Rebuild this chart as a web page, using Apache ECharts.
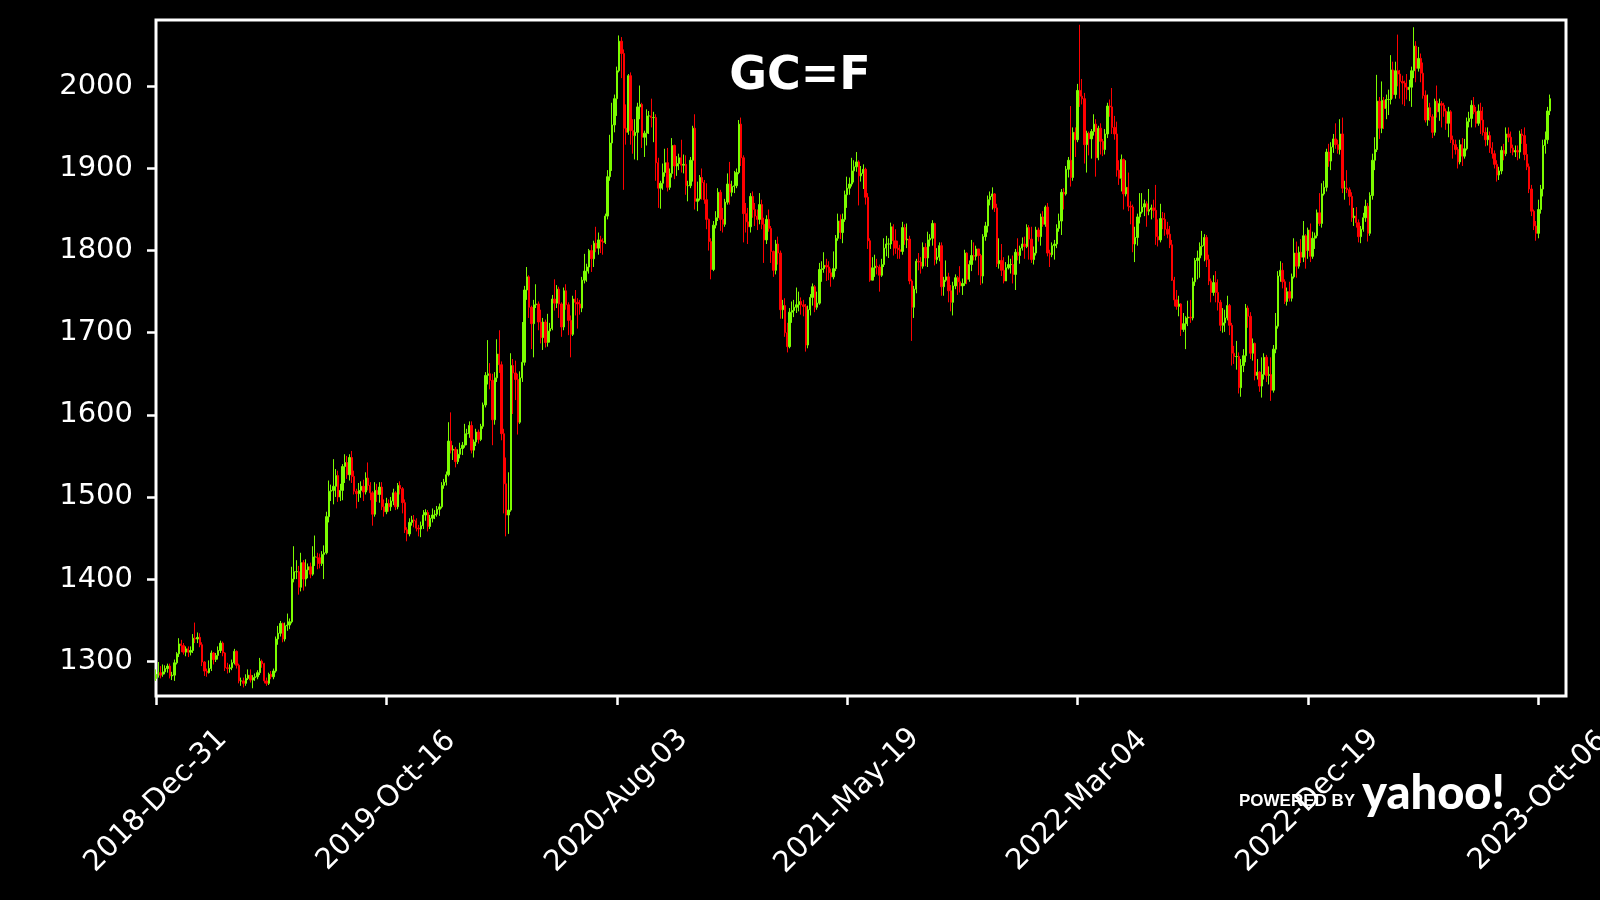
<!DOCTYPE html>
<html><head><meta charset="utf-8">
<script src="https://cdn.jsdelivr.net/npm/echarts@6/dist/echarts.min.js"></script>
<style>html,body{margin:0;padding:0;background:#000}#c{width:1600px;height:900px}</style>
</head><body><div id="c"></div>
<script>
// GC=F gold futures, candles of two trading days each: [open, close, low, high]
const tickLabels = ['2018-Dec-31','2019-Oct-16','2020-Aug-03','2021-May-19','2022-Mar-04','2022-Dec-19','2023-Oct-06'];
const yTicks = [1300,1400,1500,1600,1700,1800,1900,2000];

// 2018-Dec-31 .. 2019-Oct-15
const part1 = [
[1279,1284,1276,1290],[1285,1286,1280,1299],[1286,1283,1279,1294],[1284,1287,1281,1296],[1287,1291,1284,1295],[1291,1294,1286,1297],[1294,1282,1279,1297],[1282,1283,1277,1287],[1283,1298,1276,1302],[1298,1309,1296,1311],
[1309,1321,1305,1328],[1321,1319,1311,1326],[1319,1311,1308,1322],[1311,1315,1306,1318],[1315,1311,1305,1318],[1311,1313,1307,1318],[1313,1328,1310,1333],[1328,1327,1322,1347],[1327,1329,1322,1335],[1329,1320,1317,1334],
[1320,1299,1294,1323],[1299,1288,1282,1300],[1288,1286,1281,1291],[1286,1291,1285,1301],[1291,1310,1288,1313],[1310,1302,1296,1311],[1302,1307,1299,1310],[1307,1313,1302,1318],[1313,1322,1310,1325],[1322,1310,1306,1324],
[1310,1292,1288,1311],[1292,1291,1285,1298],[1291,1292,1286,1296],[1292,1298,1289,1302],[1298,1312,1296,1315],[1312,1295,1291,1313],[1295,1276,1273,1297],[1276,1276,1270,1280],[1276,1273,1268,1280],[1273,1279,1270,1284],
[1279,1283,1277,1290],[1283,1277,1274,1290],[1277,1280,1267,1283],[1280,1281,1276,1285],[1281,1286,1278,1289],[1286,1300,1283,1304],[1300,1297,1292,1302],[1297,1276,1273,1298],[1276,1273,1270,1280],[1273,1284,1271,1286],
[1284,1281,1278,1288],[1281,1288,1278,1291],[1288,1327,1286,1330],[1327,1334,1320,1343],[1334,1346,1330,1349],[1346,1327,1323,1347],[1327,1343,1324,1347],[1343,1344,1337,1358],[1344,1348,1339,1352],[1348,1400,1346,1415],
[1400,1409,1396,1440],[1409,1409,1400,1423],[1409,1390,1381,1416],[1390,1420,1385,1432],[1420,1400,1386,1423],[1400,1411,1391,1424],[1411,1415,1401,1419],[1415,1406,1401,1420],[1406,1427,1404,1440],[1427,1427,1416,1453],
[1427,1426,1412,1432],[1426,1419,1413,1431],[1419,1430,1416,1434],[1430,1432,1400,1441],[1432,1476,1430,1482],[1476,1507,1469,1520],[1507,1508,1495,1515],[1508,1513,1491,1546],[1513,1526,1500,1534],[1526,1500,1494,1532],
[1500,1508,1495,1516],[1508,1537,1496,1540],[1537,1542,1517,1552],[1542,1527,1522,1550],[1527,1548,1520,1552],[1548,1525,1517,1556],[1525,1507,1503,1532],[1507,1504,1486,1510],[1504,1508,1494,1517],[1508,1513,1499,1519],
[1513,1506,1495,1521],[1506,1523,1503,1530],[1523,1514,1508,1542],[1514,1505,1496,1518],[1505,1479,1465,1507],[1479,1508,1476,1518],[1508,1503,1494,1516],[1503,1512,1493,1518],[1512,1488,1484,1518],[1488,1482,1476,1497]
];
// 2019-Oct-16 .. 2020-Jul-31
const part2 = [
[1482,1492,1479,1499],[1492,1488,1482,1497],[1488,1495,1483,1500],[1495,1505,1490,1510],[1505,1488,1484,1507],[1488,1514,1485,1517],[1514,1510,1503,1519],[1510,1493,1480,1512],[1493,1460,1456,1497],[1460,1455,1446,1463],
[1455,1469,1452,1474],[1469,1472,1465,1477],[1472,1471,1463,1478],[1471,1462,1458,1474],[1462,1461,1452,1466],[1461,1465,1451,1470],[1465,1478,1461,1484],[1478,1481,1471,1485],[1481,1464,1458,1484],[1464,1474,1461,1478],
[1474,1478,1469,1486],[1478,1479,1473,1484],[1479,1485,1476,1489],[1485,1488,1477,1492],[1488,1514,1486,1518],[1514,1518,1510,1522],[1518,1527,1514,1531],[1527,1568,1525,1591],[1568,1557,1553,1603],[1557,1558,1545,1563],
[1558,1543,1536,1561],[1543,1552,1540,1558],[1552,1559,1547,1566],[1559,1563,1551,1567],[1563,1577,1560,1589],[1577,1577,1563,1583],[1577,1587,1572,1592],[1587,1557,1553,1592],[1557,1567,1548,1570],[1567,1579,1562,1583],
[1579,1570,1565,1582],[1570,1586,1568,1589],[1586,1612,1583,1615],[1612,1648,1609,1652],[1648,1650,1637,1691],[1650,1642,1631,1663],[1642,1594,1563,1650],[1594,1645,1588,1652],[1645,1674,1640,1692],[1674,1661,1651,1703],
[1661,1577,1569,1665],[1577,1516,1480,1583],[1516,1478,1452,1548],[1478,1484,1455,1530],[1484,1660,1482,1675],[1660,1651,1601,1668],[1651,1643,1618,1666],[1643,1591,1576,1650],[1591,1645,1589,1653],[1645,1664,1640,1713],
[1664,1752,1660,1757],[1752,1768,1740,1780],[1768,1731,1718,1770],[1731,1711,1680,1733],[1711,1734,1670,1740],[1734,1735,1730,1759],[1735,1713,1703,1738],[1713,1694,1687,1728],[1694,1713,1679,1718],[1713,1688,1682,1716],
[1688,1702,1683,1723],[1702,1705,1688,1712],[1705,1741,1703,1746],[1741,1736,1727,1765],[1736,1753,1730,1758],[1753,1735,1718,1756],[1735,1707,1695,1737],[1707,1751,1703,1755],[1751,1734,1728,1759],[1734,1715,1697,1737],
[1715,1698,1670,1721],[1698,1741,1696,1745],[1741,1737,1721,1752],[1737,1735,1705,1742],[1735,1730,1722,1740],[1730,1764,1725,1768],[1764,1775,1760,1796],[1775,1780,1762,1784],[1780,1800,1772,1802],[1800,1790,1774,1807],
[1790,1809,1780,1812],[1809,1803,1798,1829],[1803,1813,1795,1822],[1813,1811,1797,1818],[1811,1810,1795,1815],[1810,1842,1808,1845],[1842,1890,1838,1898],[1890,1931,1885,1941],[1931,1953,1897,1980],[1953,1985,1944,1990]
];
// 2020-Aug-03 .. 2021-May-18
const part3 = [
[1985,2019,1964,2024],[2019,2055,2017,2062],[2055,2040,2010,2060],[2040,1949,1874,2045],[1949,1944,1929,1978],[1944,2013,1941,2015],[2013,1946,1929,2017],[1946,1940,1918,1960],[1940,1944,1911,1960],[1944,1975,1910,1980],
[1975,1978,1960,2001],[1978,1938,1925,1980],[1938,1943,1914,1946],[1943,1964,1928,1972],[1964,1964,1942,1970],[1964,1962,1950,1985],[1962,1962,1932,1969],[1962,1907,1885,1966],[1907,1876,1852,1913],[1876,1882,1851,1885],
[1882,1895,1874,1906],[1895,1907,1890,1924],[1907,1877,1872,1925],[1877,1894,1874,1900],[1894,1928,1889,1937],[1928,1903,1887,1929],[1903,1906,1891,1915],[1906,1913,1898,1918],[1913,1904,1895,1935],[1904,1905,1894,1917],
[1905,1879,1868,1916],[1879,1879,1860,1885],[1879,1910,1876,1914],[1910,1949,1884,1952],[1949,1860,1850,1966],[1860,1863,1848,1884],[1863,1889,1861,1892],[1889,1883,1862,1900],[1883,1862,1857,1886],[1862,1838,1826,1882],
[1838,1811,1800,1839],[1811,1777,1765,1815],[1777,1831,1775,1836],[1831,1840,1827,1848],[1840,1871,1836,1876],[1871,1838,1824,1874],[1838,1832,1822,1852],[1832,1859,1829,1863],[1859,1881,1856,1894],[1881,1871,1856,1908],
[1871,1878,1866,1885],[1878,1879,1870,1897],[1879,1895,1876,1900],[1895,1954,1893,1959],[1954,1913,1903,1962],[1913,1845,1810,1916],[1845,1835,1822,1858],[1835,1829,1808,1852],[1829,1866,1822,1870],[1866,1850,1840,1872],
[1850,1842,1830,1858],[1842,1838,1825,1850],[1838,1856,1832,1870],[1856,1832,1826,1862],[1832,1813,1785,1840],[1813,1838,1808,1843],[1838,1827,1823,1850],[1827,1799,1785,1830],[1799,1776,1768,1800],[1776,1808,1771,1813],
[1808,1797,1783,1817],[1797,1728,1717,1800],[1728,1733,1717,1740],[1733,1700,1695,1742],[1700,1683,1676,1712],[1683,1725,1681,1730],[1725,1727,1712,1738],[1727,1731,1719,1740],[1731,1734,1724,1755],[1734,1738,1726,1750],
[1738,1734,1722,1743],[1734,1732,1720,1740],[1732,1685,1677,1735],[1685,1728,1681,1733],[1728,1743,1721,1747],[1743,1756,1733,1760],[1756,1731,1725,1758],[1731,1736,1728,1750],[1736,1777,1734,1785],[1777,1778,1762,1787],
[1778,1782,1773,1798],[1782,1780,1763,1790],[1780,1773,1764,1787],[1773,1768,1756,1778],[1768,1778,1765,1799],[1778,1815,1775,1819],[1815,1836,1812,1845],[1836,1822,1814,1844],[1822,1838,1809,1845],[1838,1868,1835,1873]
];
// 2021-May-19 .. 2022-Mar-03
const part4 = [
[1868,1876,1852,1890],[1876,1881,1868,1889],[1881,1897,1878,1913],[1897,1902,1883,1910],[1902,1908,1896,1920],[1908,1891,1855,1910],[1891,1894,1884,1903],[1894,1899,1875,1905],[1899,1865,1856,1901],[1865,1812,1802,1870],
[1812,1764,1762,1815],[1764,1779,1764,1792],[1779,1781,1768,1795],[1781,1780,1771,1790],[1780,1770,1750,1783],[1770,1783,1768,1790],[1783,1803,1780,1815],[1803,1808,1793,1818],[1808,1808,1791,1815],[1808,1829,1802,1834],
[1829,1812,1794,1832],[1812,1803,1796,1826],[1803,1801,1790,1812],[1801,1799,1790,1807],[1799,1828,1795,1835],[1828,1813,1807,1832],[1813,1814,1803,1833],[1814,1763,1759,1818],[1763,1731,1690,1765],[1731,1753,1718,1757],
[1753,1787,1748,1790],[1787,1786,1776,1797],[1786,1781,1772,1792],[1781,1804,1778,1810],[1804,1791,1781,1809],[1791,1813,1780,1823],[1813,1815,1805,1820],[1815,1833,1806,1837],[1833,1789,1782,1834],[1789,1792,1784,1803],
[1792,1806,1787,1810],[1806,1756,1745,1810],[1756,1764,1745,1768],[1764,1768,1762,1788],[1768,1751,1737,1773],[1751,1737,1726,1758],[1737,1757,1721,1762],[1757,1767,1753,1771],[1767,1762,1746,1769],[1762,1757,1749,1781],
[1757,1760,1746,1766],[1760,1797,1757,1801],[1797,1765,1759,1798],[1765,1783,1762,1788],[1783,1794,1775,1813],[1794,1793,1788,1810],[1793,1802,1788,1806],[1802,1794,1770,1802],[1794,1769,1758,1796],[1769,1817,1760,1820],
[1817,1830,1812,1835],[1830,1862,1822,1867],[1862,1866,1855,1872],[1866,1869,1850,1877],[1869,1852,1847,1870],[1852,1784,1780,1857],[1784,1788,1778,1815],[1788,1776,1769,1808],[1776,1763,1760,1792],[1763,1779,1763,1786],
[1779,1783,1777,1794],[1783,1783,1772,1790],[1783,1771,1760,1794],[1771,1798,1752,1802],[1798,1794,1788,1815],[1794,1803,1784,1806],[1803,1808,1800,1816],[1808,1805,1790,1817],[1805,1828,1803,1832],[1828,1814,1789,1831],
[1814,1789,1785,1829],[1789,1797,1783,1805],[1797,1825,1794,1829],[1825,1817,1811,1828],[1817,1841,1806,1845],[1841,1832,1829,1848],[1832,1853,1829,1855],[1853,1797,1793,1858],[1797,1795,1780,1801],[1795,1806,1792,1810],
[1806,1808,1789,1813],[1808,1827,1803,1832],[1827,1836,1823,1845],[1836,1871,1819,1875],[1871,1869,1850,1876],[1869,1899,1867,1903],[1899,1910,1889,1914],[1910,1889,1878,1976],[1889,1944,1885,1950],[1944,1935,1914,1950]
];
// 2022-Mar-04 .. 2022-Dec-16
const part5 = [
[1935,1995,1932,2003],[1995,1988,1975,2075],[1988,1985,1978,2009],[1985,1929,1906,1992],[1929,1943,1895,1946],[1943,1936,1916,1945],[1936,1945,1912,1948],[1945,1954,1940,1966],[1954,1913,1890,1960],[1913,1949,1910,1952],
[1949,1933,1917,1955],[1933,1923,1915,1936],[1923,1942,1917,1948],[1942,1976,1937,1980],[1976,1975,1963,1984],[1975,1950,1942,1998],[1950,1942,1935,1964],[1942,1898,1890,1957],[1898,1888,1880,1910],[1888,1911,1872,1917],
[1911,1869,1850,1912],[1869,1877,1866,1910],[1877,1854,1848,1895],[1854,1853,1832,1860],[1853,1808,1798,1856],[1808,1816,1786,1829],[1816,1841,1806,1845],[1841,1847,1833,1870],[1847,1853,1845,1870],[1853,1857,1842,1862],
[1857,1848,1829,1860],[1848,1850,1843,1875],[1850,1852,1838,1856],[1852,1849,1840,1862],[1849,1817,1807,1880],[1817,1813,1805,1838],[1813,1839,1810,1857],[1839,1838,1826,1847],[1838,1826,1818,1846],[1826,1820,1815,1835],
[1820,1807,1803,1830],[1807,1764,1763,1813],[1764,1740,1732,1768],[1740,1732,1728,1752],[1732,1735,1720,1745],[1735,1704,1696,1736],[1704,1711,1701,1724],[1711,1718,1680,1720],[1718,1719,1708,1739],[1719,1718,1712,1740],
[1718,1762,1715,1767],[1762,1788,1757,1791],[1788,1791,1765,1800],[1791,1805,1767,1810],[1805,1806,1794,1824],[1806,1816,1787,1820],[1816,1789,1780,1819],[1789,1763,1758,1795],[1763,1749,1737,1766],[1749,1761,1745,1770],
[1761,1749,1737,1775],[1749,1737,1727,1765],[1737,1709,1702,1740],[1709,1712,1700,1730],[1712,1718,1701,1728],[1718,1733,1715,1745],[1733,1709,1697,1735],[1709,1675,1660,1712],[1675,1671,1662,1684],[1671,1671,1655,1690],
[1671,1633,1626,1676],[1633,1660,1622,1668],[1660,1672,1652,1680],[1672,1730,1664,1735],[1730,1720,1706,1733],[1720,1675,1668,1725],[1675,1687,1666,1693],[1687,1648,1642,1688],[1648,1652,1643,1668],[1652,1635,1628,1653],
[1635,1649,1621,1670],[1649,1670,1643,1675],[1670,1648,1640,1673],[1648,1649,1637,1659],[1649,1630,1617,1670],[1630,1680,1627,1685],[1680,1708,1675,1724],[1708,1769,1705,1775],[1769,1776,1762,1787],[1776,1762,1754,1785],
[1762,1738,1735,1765],[1738,1750,1733,1755],[1750,1742,1738,1762],[1742,1768,1738,1772],[1768,1797,1766,1815],[1797,1781,1767,1811],[1781,1798,1778,1805],[1798,1792,1785,1814],[1792,1818,1786,1836],[1818,1800,1778,1820]
];
// 2022-Dec-19 .. 2023-Oct-05
const part6 = [
[1800,1825,1790,1828],[1825,1793,1786,1833],[1793,1815,1790,1823],[1815,1818,1802,1822],[1818,1846,1815,1850],[1846,1833,1830,1870],[1833,1869,1828,1882],[1869,1877,1867,1885],[1877,1920,1872,1924],[1920,1909,1902,1930],
[1909,1926,1898,1932],[1926,1936,1919,1942],[1936,1929,1924,1955],[1929,1923,1918,1935],[1923,1942,1917,1960],[1942,1876,1870,1962],[1876,1876,1862,1885],[1876,1874,1870,1898],[1874,1866,1855,1877],[1866,1840,1835,1871],
[1840,1842,1830,1852],[1842,1834,1828,1853],[1834,1817,1810,1838],[1817,1826,1809,1830],[1826,1840,1823,1846],[1840,1854,1835,1862],[1854,1821,1811,1858],[1821,1867,1818,1871],[1867,1910,1862,1918],[1910,1923,1898,1938],
[1923,1982,1920,2014],[1982,1949,1936,1987],[1949,1983,1943,2006],[1983,1973,1948,1987],[1973,1984,1960,1990],[1984,1984,1965,1996],[1984,2020,1978,2038],[2020,1990,1985,2030],[1990,2019,1985,2030],[2019,2015,2000,2063],
[2015,2006,1985,2020],[2006,2004,1978,2013],[2004,1999,1976,2007],[1999,1996,1984,2015],[1996,1999,1982,2008],[1999,2019,1975,2024],[2019,2049,2010,2072],[2049,2022,2005,2055],[2022,2034,2018,2048],[2034,2016,2005,2040],
[2016,1989,1985,2029],[1989,1959,1956,1995],[1959,1974,1952,1990],[1974,1963,1958,1980],[1963,1944,1937,1966],[1944,1982,1940,1985],[1982,1969,1962,2001],[1969,1979,1958,1985],[1979,1977,1950,1982],[1977,1970,1963,1980],
[1970,1955,1947,1973],[1955,1969,1938,1975],[1969,1935,1931,1971],[1935,1929,1912,1940],[1929,1923,1917,1935],[1923,1908,1900,1926],[1908,1929,1905,1935],[1929,1915,1903,1937],[1915,1924,1912,1936],[1924,1957,1922,1962],
[1957,1961,1950,1969],[1961,1977,1950,1983],[1977,1969,1966,1987],[1969,1955,1950,1975],[1955,1970,1952,1978],[1970,1959,1942,1980],[1959,1944,1940,1975],[1944,1935,1927,1950],[1935,1940,1928,1950],[1940,1925,1919,1945],
[1925,1918,1912,1932],[1918,1905,1900,1922],[1905,1892,1884,1910],[1892,1897,1886,1902],[1897,1922,1893,1927],[1922,1918,1910,1930],[1918,1942,1915,1950],[1942,1938,1932,1950],[1938,1925,1919,1945],[1925,1920,1916,1929],
[1920,1922,1914,1928],[1922,1920,1910,1928],[1920,1942,1912,1946],[1942,1940,1930,1948],[1940,1917,1910,1950],[1917,1902,1898,1930],[1902,1875,1870,1906],[1875,1848,1842,1880],[1848,1830,1825,1850],[1830,1821,1812,1836]
];
// 2023-Oct-06 .. 2023-Oct-20
const part7 = [
[1821,1850,1815,1862],[1850,1875,1845,1880],[1875,1928,1866,1935],[1928,1935,1918,1945],[1935,1970,1930,1975],[1970,1985,1965,1990]
];

const candles = [].concat(part1, part2, part3, part4, part5, part6, part7);
const TICK_EVERY = 100;      // one tick label every 100 two-day candles
const AXIS_SLOTS = 613;      // axis runs a little past the last candle
const categories = [];
for (let i = 0; i < AXIS_SLOTS; i++) categories.push(String(i));

const chart = echarts.init(document.getElementById('c'), null, {renderer: 'canvas', width: 1600, height: 900});
const FONT = 'DejaVu Sans';
const option = {
  backgroundColor: '#000000',
  animation: false,
  grid: {left: 156, right: 34, top: 20, bottom: 204, containLabel: false, outerBoundsMode: 'none',
         show: true, borderColor: '#ffffff', borderWidth: 3, backgroundColor: 'transparent'},
  xAxis: {
    type: 'category',
    data: categories,
    boundaryGap: false,
    axisLine: {show: false},
    splitLine: {show: false},
    axisTick: {show: true, length: 9, interval: (i) => i % TICK_EVERY === 0, lineStyle: {color: '#ffffff', width: 2.5}},
    axisLabel: {
      interval: (i) => i % TICK_EVERY === 0,
      formatter: (v) => tickLabels[Number(v) / TICK_EVERY] || '',
      rotate: 45, align: 'center', verticalAlign: 'middle', margin: 105,
      hideOverlap: false,
      color: '#ffffff', fontSize: 29, fontFamily: FONT
    }
  },
  yAxis: {
    type: 'value',
    min: 1257.6, max: 2080.8,
    axisLine: {show: false},
    splitLine: {show: false},
    axisTick: {show: true, length: 9, customValues: yTicks, lineStyle: {color: '#ffffff', width: 2.5}},
    axisLabel: {customValues: yTicks, formatter: (v) => String(v), color: '#ffffff', fontSize: 29, fontFamily: FONT, margin: 23}
  },
  series: [{
    type: 'candlestick',
    data: candles,
    large: false,
    silent: true,
    barWidth: 1.8,
    itemStyle: {color: '#7CFC00', color0: '#FF0000', borderColor: '#7CFC00', borderColor0: '#FF0000', borderWidth: 1}
  }],
  graphic: [
    {type: 'text', z: 100, x: 800, y: 77, style: {text: 'GC=F', align: 'center', verticalAlign: 'middle', fill: '#ffffff', font: 'bold 46px "DejaVu Sans"'}},
    {type: 'text', z: 100, x: 1239, y: 801, style: {text: 'POWERED BY', align: 'left', verticalAlign: 'middle', fill: '#ffffff', font: 'bold 17px "Liberation Sans"'}},
    {type: 'text', z: 100, x: 1362, y: 794, style: {text: 'yahoo!', align: 'left', verticalAlign: 'middle', fill: '#ffffff', font: '900 47px Lato, Inter, sans-serif'}}
  ]
};
chart.setOption(option);
</script>
</body></html>
